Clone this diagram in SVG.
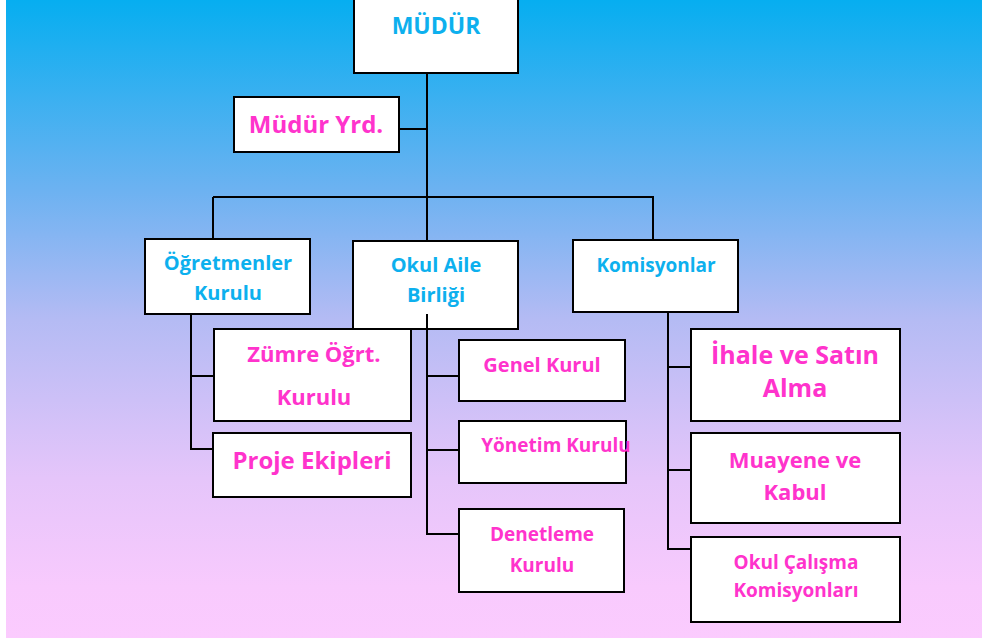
<svg xmlns="http://www.w3.org/2000/svg" width="982" height="640" viewBox="0 0 982 640">
<defs>
<linearGradient id="bg" x1="0" y1="0" x2="0" y2="1">
<stop offset="0" stop-color="#06AEF0"/>
<stop offset="0.3" stop-color="#6DB2F1"/>
<stop offset="0.5" stop-color="#B4BBF4"/>
<stop offset="0.75" stop-color="#E5C5FA"/>
<stop offset="0.92" stop-color="#F8CAFD"/>
<stop offset="1" stop-color="#FBCBFE"/>
</linearGradient>
</defs>
<style>
.box{fill:#fff;stroke:#000;stroke-width:2}
.t{font-family:"Open Sans","DejaVu Sans",sans-serif;font-weight:bold;text-anchor:middle}
.b{fill:#0DB0EE}
.p{fill:#FF33CC}
.s19{font-size:19px}
.s20{font-size:20px}
.s22{font-size:22px}
.s23{font-size:23px}
.s24{font-size:24px}
.s25{font-size:25px}
.c{fill:none;stroke:#000;stroke-width:2}
</style>
<rect x="0" y="0" width="982" height="640" fill="#fff"/>
<rect x="6" y="0" width="976" height="638" fill="url(#bg)"/>
<g id="connectors">
<path class="c" d="M427 73V197M399 129H427M213 197H654M213 197V238M427 197V240M653 197V240"/>
<path class="c" d="M191 314V449H213M191 376H214"/>
<path class="c" d="M427 314V534H459M427 376H459M427 450H459"/>
<path class="c" d="M668 312V549H691M668 367H691M668 470H691"/>
</g>
<g id="mudur"><rect class="box" x="354" y="-1" width="164" height="74"/><text class="t b s23" x="436" y="34">MÜDÜR</text></g>
<g id="mudur-yrd"><rect class="box" x="234" y="97" width="165" height="55"/><text class="t p s24" x="316" y="133">Müdür Yrd.</text></g>
<g id="ogretmenler"><rect class="box" x="145" y="239" width="165" height="75"/><text class="t b s20" x="228" y="270">Öğretmenler</text><text class="t b s20" x="228" y="300">Kurulu</text></g>
<g id="okul-aile"><rect class="box" x="353" y="241" width="165" height="88"/><text class="t b s20" x="436" y="272">Okul Aile</text><text class="t b s20" x="436" y="302">Birliği</text></g>
<path class="c" d="M427 314V329"/>
<g id="komisyonlar"><rect class="box" x="573" y="240" width="165" height="72"/><text class="t b s19" x="656" y="272">Komisyonlar</text></g>
<g id="zumre"><rect class="box" x="214" y="329" width="197" height="92"/><text class="t p s22" x="314" y="362">Zümre Öğrt.</text><text class="t p s22" x="314" y="405">Kurulu</text></g>
<g id="proje"><rect class="box" x="213" y="433" width="198" height="64"/><text class="t p s24" x="312" y="469">Proje Ekipleri</text></g>
<g id="genel-kurul"><rect class="box" x="459" y="340" width="166" height="61"/><text class="t p s20" x="542" y="372">Genel Kurul</text></g>
<g id="yonetim-kurulu"><rect class="box" x="459" y="421" width="167" height="62"/><text class="t p s19" x="556" y="452">Yönetim Kurulu</text></g>
<g id="denetleme-kurulu"><rect class="box" x="459" y="509" width="165" height="83"/><text class="t p s19" x="542" y="541">Denetleme</text><text class="t p s19" x="542" y="572">Kurulu</text></g>
<g id="ihale"><rect class="box" x="691" y="329" width="209" height="92"/><text class="t p s25" x="795" y="364">İhale ve Satın</text><text class="t p s25" x="795" y="397">Alma</text></g>
<g id="muayene"><rect class="box" x="691" y="433" width="209" height="90"/><text class="t p s22" x="795" y="468">Muayene ve</text><text class="t p s22" x="795" y="500">Kabul</text></g>
<g id="okul-calisma"><rect class="box" x="691" y="537" width="209" height="85"/><text class="t p s19" x="796" y="569">Okul Çalışma</text><text class="t p s19" x="796" y="597">Komisyonları</text></g>
</svg>
